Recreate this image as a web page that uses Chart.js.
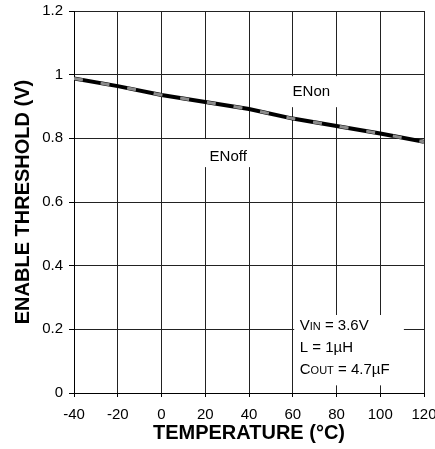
<!DOCTYPE html>
<html>
<head>
<meta charset="utf-8">
<script src="https://cdn.jsdelivr.net/npm/chart.js@4.4.0/dist/chart.umd.min.js"></script>
<style>
html, body { margin: 0; padding: 0; background: #fff; overflow: hidden; }
#wrap { position: relative; width: 435px; height: 449px; }
</style>
</head>
<body>
<div id="wrap"><canvas id="thresholdChart"></canvas></div>
<script>
var temps = [-40, -20, 0, 20, 40, 60, 80, 100, 120];
var enOn  = [0.988, 0.964, 0.936, 0.914, 0.892, 0.862, 0.839, 0.815, 0.789];
var enOff = [0.988, 0.964, 0.936, 0.914, 0.892, 0.862, 0.839, 0.815, 0.789];

var xTicks = [-40, -20, 0, 20, 40, 60, 80, 100, 120];
var yTicks = [0, 0.2, 0.4, 0.6, 0.8, 1, 1.2];

var fontFamily = '"Liberation Sans", Arial, Helvetica, sans-serif';

function toPoints(values) {
    var pts = [];
    for (let i = 0; i < temps.length; i++) {
        pts.push({ x: temps[i], y: values[i] });
    }
    return pts;
}

// draws a string made of [text, fontSize] pieces, left to right
function drawPieces(ctx, pieces, x, y) {
    for (let i = 0; i < pieces.length; i++) {
        ctx.font = pieces[i][1] + 'px ' + fontFamily;
        ctx.fillText(pieces[i][0], x, y);
        x += ctx.measureText(pieces[i][0]).width;
    }
}

var labelPlugin = {
    id: 'curveLabels',
    beforeDatasetsDraw: function (chart) {
        var ctx = chart.ctx;
        var xs = chart.scales.x;
        var ys = chart.scales.y;
        ctx.save();

        // ENon / ENoff names, on white patches over the grid
        var onX = xs.getPixelForValue(68.5), onY = ys.getPixelForValue(0.945);
        var offX = xs.getPixelForValue(30.5), offY = ys.getPixelForValue(0.741);
        ctx.fillStyle = '#fff';
        ctx.fillRect(onX - 28, onY - 16, 62, 31);
        ctx.fillRect(offX - 29, offY - 18, 60, 28);

        // test conditions block
        var boxL = xs.getPixelForValue(60.2) + 1;
        var boxT = ys.getPixelForValue(0.245);
        var boxR = xs.getPixelForValue(110.8);
        var boxB = ys.getPixelForValue(0.024);
        ctx.fillRect(boxL, boxT, boxR - boxL, boxB - boxT);

        ctx.fillStyle = '#000';
        ctx.textAlign = 'center';
        ctx.textBaseline = 'middle';
        ctx.font = '15px ' + fontFamily;
        ctx.fillText('ENon', onX, onY);
        ctx.fillText('ENoff', offX, offY);

        ctx.textAlign = 'left';
        ctx.textBaseline = 'alphabetic';
        var tx = xs.getPixelForValue(63.2);
        var ty = boxT + 15;
        drawPieces(ctx, [['V', 15], ['IN', 11], [' = 3.6V', 15]], tx, ty);
        drawPieces(ctx, [['L = 1\u00b5H', 15]], tx, ty + 22);
        drawPieces(ctx, [['C', 15], ['OUT', 11], [' = 4.7\u00b5F', 15]], tx, ty + 44);
        ctx.restore();
    }
};

// ENoff is dashed grey, drawn over the solid black ENon curve
var data = {
    datasets: [
        {
            label: 'ENon',
            data: toPoints(enOn),
            borderColor: '#000000',
            borderWidth: 4,
            pointRadius: 0,
            tension: 0,
            order: 1
        },
        {
            label: 'ENoff',
            data: toPoints(enOff),
            borderColor: '#8c8c8c',
            borderWidth: 3,
            borderDash: [9, 18],
            borderCapStyle: 'butt',
            pointRadius: 0,
            tension: 0,
            order: 0
        }
    ]
};

var ctx = document.getElementById('thresholdChart');
var thresholdChart = new Chart(ctx, {
    type: 'line',
    data: data,
    plugins: [labelPlugin],
    options: {
        responsive: true,
        maintainAspectRatio: false,
        animation: false,
        events: [],
        layout: { padding: 0 },
        plugins: {
            legend: { display: false },
            tooltip: { enabled: false }
        },
        scales: {
            x: {
                type: 'linear',
                min: -40,
                max: 120,
                afterBuildTicks: function (s) {
                    s.ticks = xTicks.map(function (v) { return { value: v }; });
                },
                afterFit: function (s) {
                    s.height = 56;
                    s.paddingLeft = 0;
                    s.paddingRight = 11;
                },
                grid: {
                    color: '#222222',
                    lineWidth: 1,
                    tickLength: 4,
                    tickColor: '#000000'
                },
                border: { display: true, color: '#000000', width: 1 },
                ticks: {
                    color: '#000000',
                    padding: 9,
                    maxRotation: 0,
                    autoSkip: false,
                    font: { family: fontFamily, size: 15 }
                },
                title: {
                    display: true,
                    text: 'TEMPERATURE (\u00b0C)',
                    color: '#000000',
                    padding: { top: 0, bottom: 4 },
                    font: { family: fontFamily, size: 20, weight: 'bold' }
                }
            },
            y: {
                type: 'linear',
                min: 0,
                max: 1.2,
                afterBuildTicks: function (s) {
                    s.ticks = yTicks.map(function (v) { return { value: v }; });
                },
                afterFit: function (s) {
                    s.width = 74;
                    s.paddingTop = 11;
                    s.paddingBottom = 0;
                },
                grid: {
                    color: '#222222',
                    lineWidth: 1,
                    tickLength: 5,
                    tickColor: '#000000'
                },
                border: { display: true, color: '#000000', width: 1 },
                ticks: {
                    color: '#000000',
                    padding: 6,
                    autoSkip: false,
                    font: { family: fontFamily, size: 15 },
                    callback: function (v) { return String(Math.round(v * 10) / 10); }
                },
                title: {
                    display: true,
                    text: 'ENABLE THRESHOLD (V)',
                    color: '#000000',
                    padding: { top: 11, bottom: 0 },
                    font: { family: fontFamily, size: 20, weight: 'bold' }
                }
            }
        }
    }
});
</script>
</body>
</html>
